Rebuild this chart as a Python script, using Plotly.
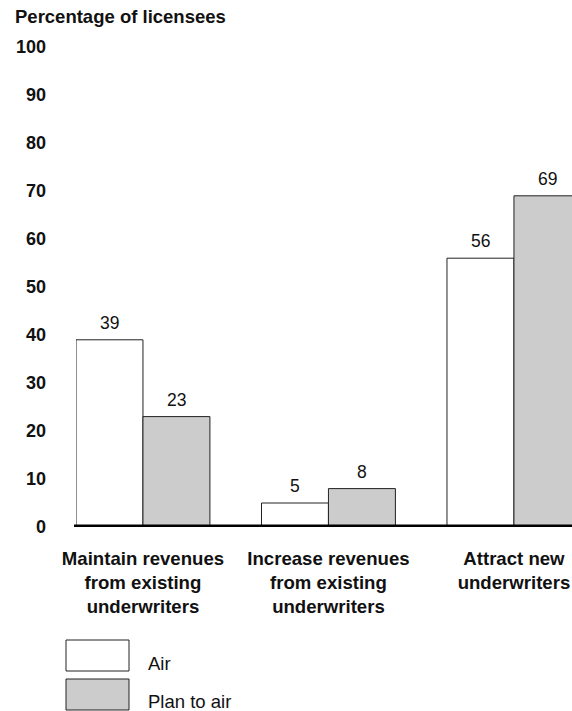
import plotly.graph_objects as go

categories = ["Maintain revenues<br>from existing<br>underwriters",
              "Increase revenues<br>from existing<br>underwriters",
              "Attract new<br>underwriters"]
series_names = ["Air", "Plan to air"]
air = [39, 5, 56]
plan_to_air = [23, 8, 69]
y_ticks = list(range(0, 101, 10))
y_title = "Percentage of licensees"

W, H = 572, 711
L, R, T, B = 76, 0, 47, 184
PW, PH = W - L - R, H - T - B


def px_x(x):
    return (x - L) / PW


def px_y(y):
    return (H - B - y) / PH


FONT = "Liberation Sans, Arial, Helvetica, sans-serif"
fills = ["#ffffff", "#cccccc"]
BARGAP = 0.278
half = (1 - BARGAP) / 4  # offset of each bar centre from its category centre

fig = go.Figure()
for k, (name, vals, col) in enumerate(zip(series_names, [air, plan_to_air], fills)):
    fig.add_trace(go.Bar(
        x=[0, 1, 2], y=vals, name=name,
        marker=dict(color=col, line=dict(color="#222222", width=1)),
        showlegend=False, hoverinfo="x+y",
    ))
    sign = -1 if k == 0 else 1
    for i, v in enumerate(vals):
        fig.add_annotation(x=i + sign * half, y=v, xref="x", yref="y", text=str(v),
                           showarrow=False, yanchor="bottom", yshift=5,
                           font=dict(family=FONT, size=17.5, color="#111111"))

fig.update_layout(
    width=W, height=H,
    margin=dict(l=L, r=R, t=T, b=B),
    paper_bgcolor="white", plot_bgcolor="white",
    barmode="group", bargap=BARGAP, bargroupgap=0,
    font=dict(family=FONT, color="#111111"),
    xaxis=dict(range=[-0.361, 2.313], tickmode="array", tickvals=[0, 1, 2],
               ticktext=["<b>" + c.replace("<br>", "</b><br><b>") + "</b>" for c in categories],
               tickfont=dict(family=FONT, size=18.6, color="#111111"),
               showgrid=False, zeroline=False, showline=False, ticks="",
               ticklabelstandoff=18, automargin=False),
    yaxis=dict(range=[0, 100], tickmode="array", tickvals=y_ticks,
               ticktext=["<b>%d</b>" % v for v in y_ticks],
               tickfont=dict(family=FONT, size=18, color="#111111"),
               showgrid=False, zeroline=False, showline=False, ticks="",
               ticklabelstandoff=29, automargin=False),
)

# thick baseline at 0
fig.add_shape(type="line", xref="paper", yref="y", x0=px_x(74), x1=1.0, y0=0, y1=0,
              line=dict(color="black", width=5))

# axis title
fig.add_annotation(text="<b>" + y_title + "</b>", xref="paper", yref="paper",
                   x=px_x(13), y=px_y(16.5), xanchor="left", yanchor="middle",
                   showarrow=False, font=dict(family=FONT, size=18.5, color="#111111"))

# legend
boxes = [(66, 640, 129, 671, 663), (66, 679, 129, 710, 701)]
for (x0, y0, x1, y1, ty), name, col in zip(boxes, series_names, fills):
    fig.add_shape(type="rect", xref="paper", yref="paper",
                  x0=px_x(x0), x1=px_x(x1), y0=px_y(y0), y1=px_y(y1),
                  fillcolor=col, line=dict(color="#222222", width=1))
    fig.add_annotation(text=name, xref="paper", yref="paper",
                       x=px_x(146), y=px_y(ty), xanchor="left", yanchor="middle",
                       showarrow=False, font=dict(family=FONT, size=18.5, color="#111111"))

fig.write_html("out.html", config={"displayModeBar": False},
               post_script="document.body.style.margin='0';document.body.style.overflow='hidden';")
